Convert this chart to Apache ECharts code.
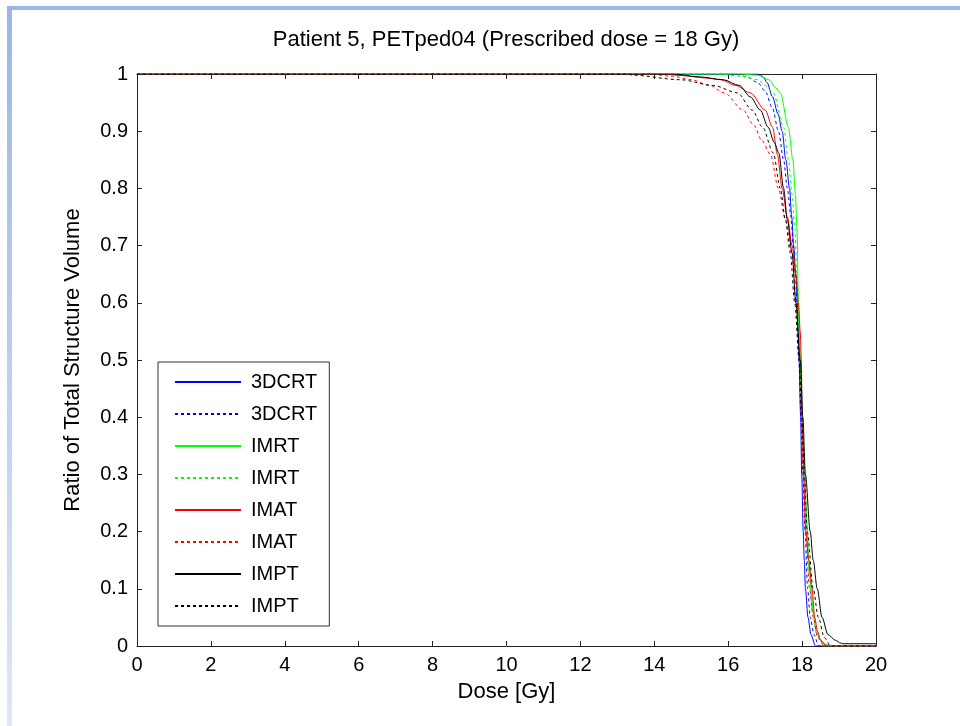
<!DOCTYPE html>
<html>
<head>
<meta charset="utf-8">
<script src="https://cdn.jsdelivr.net/npm/echarts@6/dist/echarts.min.js"></script>
<style>
  html, body { margin: 0; padding: 0; background: #ffffff; }
  #chart { width: 960px; height: 726px; }
</style>
</head>
<body>
<div id="chart"></div>
<script>
// Dose-volume histograms, Patient 5 (PETped04), prescribed dose 18 Gy.
// Each curve: dose points [Gy] and matching volume ratios.
const xTicks = [0, 2, 4, 6, 8, 10, 12, 14, 16, 18, 20];
const yTicks = [0, 0.1, 0.2, 0.3, 0.4, 0.5, 0.6, 0.7, 0.8, 0.9, 1];

const dose3dcrtSolid  = [0, 16.8, 16.95, 17.05, 17.2, 17.35, 17.46, 17.56, 17.66, 17.72, 17.77, 17.83, 17.87, 17.9, 17.92, 17.96, 17.99, 18.03, 18.06, 18.09, 18.16, 18.24, 18.36, 20];
const ratio3dcrtSolid = [1, 1, 0.995, 0.985, 0.96, 0.93, 0.9, 0.85, 0.8, 0.75, 0.7, 0.65, 0.6, 0.55, 0.5, 0.4, 0.3, 0.2, 0.15, 0.1, 0.05, 0.02, 0, 0];

const dose3dcrtDot  = [0, 16.2, 16.5, 16.8, 17.0, 17.2, 17.36, 17.5, 17.6, 17.7, 17.76, 17.82, 17.86, 17.91, 17.97, 18.02, 18.08, 18.15, 18.22, 18.32, 18.45, 20];
const ratio3dcrtDot = [1, 1, 0.995, 0.985, 0.97, 0.94, 0.9, 0.85, 0.8, 0.75, 0.7, 0.65, 0.6, 0.5, 0.4, 0.3, 0.2, 0.1, 0.05, 0.02, 0, 0];

const doseImrtSolid  = [0, 16.3, 16.8, 17.1, 17.3, 17.41, 17.63, 17.75, 17.82, 17.86, 17.9, 17.95, 18.0, 18.07, 18.14, 18.18, 18.24, 18.3, 18.37, 18.48, 18.6, 18.77, 20];
const ratioImrtSolid = [1, 1, 0.998, 0.99, 0.975, 0.967, 0.907, 0.85, 0.79, 0.733, 0.6, 0.5, 0.4, 0.3, 0.2, 0.15, 0.1, 0.06, 0.03, 0.012, 0.004, 0, 0];

const doseImrtDot  = [0, 15.7, 16.4, 16.8, 17.0, 17.22, 17.5, 17.63, 17.73, 17.8, 17.86, 17.92, 17.98, 18.05, 18.12, 18.2, 18.28, 18.4, 18.6, 20];
const ratioImrtDot = [1, 1, 0.996, 0.99, 0.98, 0.967, 0.907, 0.85, 0.79, 0.733, 0.65, 0.55, 0.45, 0.33, 0.22, 0.12, 0.06, 0.02, 0, 0];

const doseImatSolid  = [0, 14.2, 14.8, 15.4, 15.8, 16.2, 16.6, 17.0, 17.2, 17.33, 17.46, 17.6, 17.73, 17.83, 17.9, 17.95, 17.98, 18.0, 18.04, 18.1, 18.18, 18.27, 18.34, 18.42, 18.5, 18.66, 20];
const ratioImatSolid = [1, 1, 0.997, 0.993, 0.99, 0.98, 0.967, 0.937, 0.907, 0.86, 0.8, 0.75, 0.7, 0.65, 0.6, 0.55, 0.5, 0.4, 0.3, 0.2, 0.15, 0.1, 0.05, 0.025, 0.01, 0, 0];

const doseImatDot  = [0, 13.8, 14.5, 15.0, 15.5, 15.9, 16.4, 16.7, 16.9, 17.14, 17.36, 17.55, 17.72, 17.84, 17.92, 17.98, 18.03, 18.1, 18.2, 18.3, 18.42, 18.6, 20];
const ratioImatDot = [1, 1, 0.996, 0.99, 0.98, 0.967, 0.937, 0.91, 0.885, 0.86, 0.8, 0.745, 0.687, 0.6, 0.5, 0.4, 0.3, 0.2, 0.1, 0.05, 0.015, 0, 0];

const doseImptSolid  = [0, 14.5, 15.2, 15.87, 16.3, 16.6, 16.87, 17.08, 17.25, 17.37, 17.5, 17.6, 17.73, 17.83, 17.95, 18.02, 18.09, 18.22, 18.3, 18.41, 18.54, 18.7, 18.9, 19.05, 19.1, 20];
const ratioImptSolid = [1, 1, 0.995, 0.99, 0.98, 0.96, 0.937, 0.907, 0.88, 0.862, 0.8, 0.745, 0.687, 0.6, 0.5, 0.4, 0.3, 0.2, 0.15, 0.1, 0.05, 0.02, 0.01, 0.005, 0.004, 0.004];

const doseImptDot  = [0, 13.3, 13.4, 14.7, 15.6, 16.25, 16.65, 16.93, 17.22, 17.41, 17.55, 17.68, 17.8, 17.92, 17.99, 18.06, 18.14, 18.3, 18.44, 18.6, 18.77, 20];
const ratioImptDot = [1, 1, 0.998, 0.99, 0.98, 0.967, 0.937, 0.907, 0.862, 0.8, 0.745, 0.687, 0.6, 0.5, 0.4, 0.3, 0.2, 0.1, 0.05, 0.015, 0, 0];

const curves = [
  { name: '3DCRT solid',  label: '3DCRT', color: '#0000ff', dash: 'solid', dose: dose3dcrtSolid, ratio: ratio3dcrtSolid },
  { name: '3DCRT dotted', label: '3DCRT', color: '#0000ff', dash: [3, 3],  dose: dose3dcrtDot,   ratio: ratio3dcrtDot },
  { name: 'IMRT solid',   label: 'IMRT',  color: '#00ff00', dash: 'solid', dose: doseImrtSolid,  ratio: ratioImrtSolid },
  { name: 'IMRT dotted',  label: 'IMRT',  color: '#00ff00', dash: [3, 3],  dose: doseImrtDot,    ratio: ratioImrtDot },
  { name: 'IMAT solid',   label: 'IMAT',  color: '#ff0000', dash: 'solid', dose: doseImatSolid,  ratio: ratioImatSolid },
  { name: 'IMAT dotted',  label: 'IMAT',  color: '#ff0000', dash: [3, 3],  dose: doseImatDot,    ratio: ratioImatDot },
  { name: 'IMPT solid',   label: 'IMPT',  color: '#000000', dash: 'solid', dose: doseImptSolid,  ratio: ratioImptSolid },
  { name: 'IMPT dotted',  label: 'IMPT',  color: '#000000', dash: [3, 3],  dose: doseImptDot,    ratio: ratioImptDot }
];

const labelOf = {};
curves.forEach(c => { labelOf[c.name] = c.label; });

const FONT = "'Liberation Sans', Arial, sans-serif";
const AXIS_COLOR = '#222222';

const chart = echarts.init(document.getElementById('chart'), null, { renderer: 'canvas' });

const insideTick = { show: true, inside: true, length: 5, lineStyle: { color: AXIS_COLOR, width: 1 } };

chart.setOption({
  backgroundColor: '#ffffff',
  animation: false,
  textStyle: { fontFamily: FONT },
  graphic: [
    // slide frame: top bar and fading left bar
    { type: 'rect', silent: true, z: -10, shape: { x: 7, y: 6, width: 953, height: 4 }, style: { fill: '#9db5e4' } },
    { type: 'rect', silent: true, z: -10, shape: { x: 7, y: 6, width: 5, height: 720 },
      style: { fill: new echarts.graphic.LinearGradient(0, 0, 0, 1, [
        { offset: 0, color: '#9db5e4' }, { offset: 1, color: '#dfe7f5' }
      ]) } }
  ],
  title: {
    text: 'Patient 5, PETped04 (Prescribed dose = 18 Gy)',
    left: 501, top: 24, textAlign: 'center',
    textStyle: { fontFamily: FONT, fontSize: 22, fontWeight: 'normal', color: '#000' }
  },
  grid: { left: 137, right: 84, top: 74, bottom: 80, containLabel: false },
  legend: {
    orient: 'vertical',
    left: 158, top: 362,
    padding: [10, 12, 10, 16],
    itemWidth: 66, itemHeight: 14, itemGap: 12,
    borderColor: '#333', borderWidth: 1, backgroundColor: '#fff',
    itemStyle: { color: 'transparent', borderWidth: 0, borderColor: 'transparent', opacity: 0 },
    data: curves.map(c => c.name),
    formatter: name => labelOf[name],
    textStyle: { fontFamily: FONT, fontSize: 20, color: '#000', padding: [0, 0, 0, 5] },
    selectedMode: false
  },
  xAxis: [
    {
      type: 'value', min: xTicks[0], max: xTicks[xTicks.length - 1], interval: 2,
      name: 'Dose [Gy]', nameLocation: 'middle', nameGap: 35,
      nameTextStyle: { fontFamily: FONT, fontSize: 22, color: '#000' },
      axisLine: { show: true, onZero: false, lineStyle: { color: AXIS_COLOR, width: 1 } },
      axisTick: insideTick,
      axisLabel: { fontFamily: FONT, fontSize: 20, color: '#000', margin: 9 },
      splitLine: { show: false }
    },
    {
      type: 'value', position: 'top', min: xTicks[0], max: xTicks[xTicks.length - 1], interval: 2,
      axisLine: { show: true, onZero: false, lineStyle: { color: AXIS_COLOR, width: 1 } },
      axisTick: insideTick, axisLabel: { show: false }, splitLine: { show: false }
    }
  ],
  yAxis: [
    {
      type: 'value', min: yTicks[0], max: yTicks[yTicks.length - 1], interval: 0.1,
      name: 'Ratio of Total Structure Volume', nameLocation: 'middle', nameGap: 53,
      nameTextStyle: { fontFamily: FONT, fontSize: 22, color: '#000' },
      axisLine: { show: true, onZero: false, lineStyle: { color: AXIS_COLOR, width: 1 } },
      axisTick: insideTick,
      axisLabel: { fontFamily: FONT, fontSize: 20, color: '#000', margin: 9 },
      splitLine: { show: false }
    },
    {
      type: 'value', position: 'right', min: yTicks[0], max: yTicks[yTicks.length - 1], interval: 0.1,
      axisLine: { show: true, onZero: false, lineStyle: { color: AXIS_COLOR, width: 1 } },
      axisTick: insideTick, axisLabel: { show: false }, splitLine: { show: false }
    }
  ],
  series: curves.map(c => ({
    name: c.name,
    type: 'line',
    xAxisIndex: 0, yAxisIndex: 0,
    symbol: 'none',
    smooth: 0.3,
    smoothMonotone: 'x',
    clip: true,
    lineStyle: { color: c.color, width: 1, type: c.dash },
    itemStyle: { color: c.color },
    emphasis: { disabled: true },
    data: c.dose.map((d, i) => [d, c.ratio[i]])
  }))
});
</script>
</body>
</html>
